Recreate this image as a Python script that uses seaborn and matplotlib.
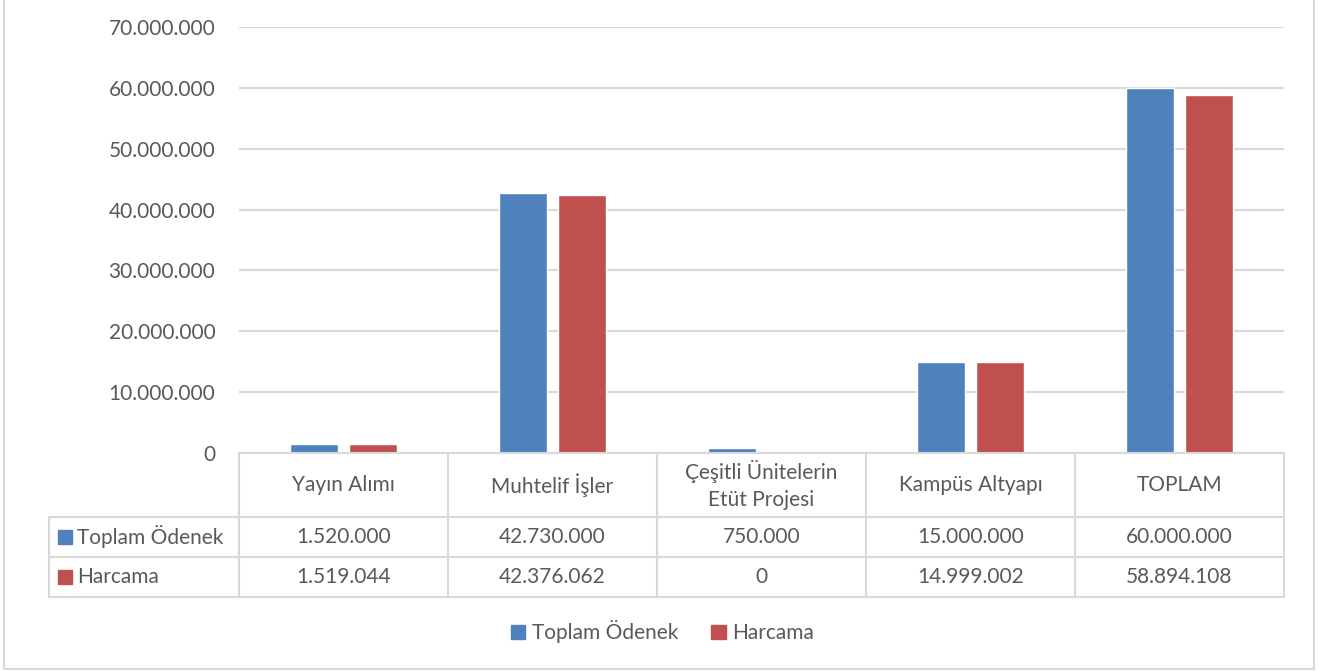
import matplotlib
matplotlib.use("Agg")
import matplotlib.pyplot as plt
import matplotlib.transforms as mtransforms
from matplotlib.patches import Rectangle
from matplotlib.ticker import FuncFormatter
import pandas as pd
import seaborn as sns

# data
categories = ["Yayın Alımı", "Muhtelif İşler", "Çeşitli Ünitelerin\nEtüt Projesi",
              "Kampüs Altyapı", "TOPLAM"]
series_names = ["Toplam Ödenek", "Harcama"]
toplam_odenek = [1520000, 42730000, 750000, 15000000, 60000000]
harcama = [1519044, 42376062, 0, 14999002, 58894108]
colors = ["#4F81BD", "#C0504D"]

text_color = "#595959"
line_color = "#D9D9D9"


def tr_fmt(v):
    return f"{int(round(v)):,}".replace(",", ".")


df = pd.DataFrame({
    "kategori": categories * 2,
    "seri": [series_names[0]] * 5 + [series_names[1]] * 5,
    "deger": toplam_odenek + harcama,
})

sns.set_style("white")
plt.rcParams["font.family"] = ["Lato", "DejaVu Sans"]

fig = plt.figure(figsize=(13.33, 6.72), dpi=100)
ax = fig.add_axes([0.1793, 0.3259, 0.7839, 0.6339])

sns.barplot(data=df, x="kategori", y="deger", hue="seri", order=categories,
            hue_order=series_names, palette=colors, width=0.565, gap=0.2,
            saturation=1, legend=False, ax=ax)

fs = 15

ax.set_xlim(-0.5, len(categories) - 0.5)
ax.set_ylim(0, 70000000)
ax.set_yticks(range(0, 70000001, 10000000))
ax.yaxis.set_major_formatter(FuncFormatter(lambda v, p: tr_fmt(v)))
ax.tick_params(axis="y", length=0, pad=17, labelsize=fs, labelcolor=text_color)
ax.set_xticks([])
ax.set_xlabel("")
ax.set_ylabel("")
ax.grid(axis="y", color=line_color, linewidth=1.5)
ax.set_axisbelow(True)
for s in ["top", "right", "left"]:
    ax.spines[s].set_visible(False)
ax.spines["bottom"].set_color(line_color)
ax.spines["bottom"].set_linewidth(1.5)

# data table under the axis
tr = mtransforms.blended_transform_factory(ax.transData, ax.transAxes)
row_h = [0.0, -0.150, -0.244, -0.338]
left_x = -1.409
n = len(categories)
lkw = dict(color=line_color, lw=1.5, transform=tr, clip_on=False)

for i in range(n + 1):
    ax.plot([i - 0.5, i - 0.5], [row_h[0], row_h[3]], **lkw)
ax.plot([left_x, left_x], [row_h[1], row_h[3]], **lkw)
for y in row_h[1:]:
    ax.plot([left_x, n - 0.5], [y, y], **lkw)

for i, cat in enumerate(categories):
    ax.text(i, (row_h[0] + row_h[1]) / 2, cat, transform=tr, ha="center",
            va="center", fontsize=fs, color=text_color, linespacing=1.45)

# key squares in the table: ~13 px wide/high
key_w, key_h = 0.063, 0.031
series_vals = [toplam_odenek, harcama]
for r, (name, vals, col) in enumerate(zip(series_names, series_vals, colors)):
    yc = (row_h[r + 1] + row_h[r + 2]) / 2
    for i, v in enumerate(vals):
        ax.text(i, yc, tr_fmt(v), transform=tr, ha="center", va="center",
                fontsize=fs, color=text_color)
    ax.add_patch(Rectangle((left_x + 0.045, yc - key_h / 2), key_w, key_h,
                           transform=tr, color=col, clip_on=False))
    ax.text(left_x + 0.135, yc, name, transform=tr, ha="left", va="center",
            fontsize=fs, color=text_color)

# legend at the bottom
handles = [Rectangle((0, 0), 1, 1, color=c) for c in colors]
fig.legend(handles, series_names, loc="center", bbox_to_anchor=(0.497, 0.06),
           ncol=2, frameon=False, fontsize=fs, labelcolor=text_color,
           handlelength=0.7, handleheight=0.7, handletextpad=0.3,
           columnspacing=1.6)

# chart border
fig.patches.append(Rectangle((0.003, 0.004), 0.983, 1.0, transform=fig.transFigure,
                             fill=False, edgecolor=line_color, lw=1.5))

fig.savefig("out.png", dpi=100)
